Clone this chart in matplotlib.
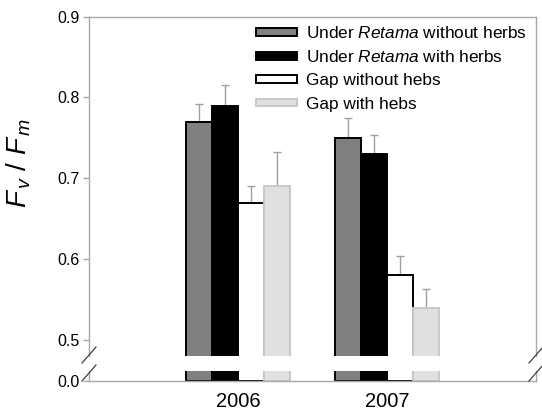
import numpy as np
import matplotlib
matplotlib.use('Agg')
import matplotlib.pyplot as plt
from matplotlib.lines import Line2D

plt.rcParams['font.family'] = ['Liberation Sans', 'DejaVu Sans']
plt.rcParams['mathtext.fontset'] = 'custom'
plt.rcParams['mathtext.rm'] = 'Liberation Sans'
plt.rcParams['mathtext.it'] = 'Liberation Sans:italic'

years = ['2006', '2007']
series = ['Under $\\it{Retama}$ without herbs', 'Under $\\it{Retama}$ with herbs',
          'Gap without hebs', 'Gap with hebs']
means = [
    [0.77, 0.75],
    [0.79, 0.73],
    [0.67, 0.58],
    [0.69, 0.54],
]
errors = [
    [0.022, 0.024],
    [0.025, 0.024],
    [0.021, 0.024],
    [0.043, 0.023],
]

fills = ['#808080', '#000000', '#ffffff', '#e0e0e0']
edges = ['#000000', '#000000', '#000000', '#c8c8c8']
spine_col = '#a8a8a8'

W, H = 542, 413
fig = plt.figure(figsize=(W / 100, H / 100), dpi=100)
ax_top = fig.add_axes([89 / W, 1 - 356 / H, 447 / W, (356 - 16.7) / H])
ax_bot = fig.add_axes([89 / W, 1 - 381 / H, 447 / W, 10 / H])

x = np.arange(1, len(years) + 1)
width = 0.175
offsets = (np.arange(4) - 1.5) * width

for ax in (ax_top, ax_bot):
    handles = []
    for i in range(4):
        b = ax.bar(x + offsets[i], means[i], width, color=fills[i],
                   edgecolor=edges[i], linewidth=1.4, label=series[i], zorder=2)
        handles.append(b)
        ax.errorbar(x + offsets[i], means[i],
                    yerr=[np.zeros(len(years)), errors[i]], fmt='none',
                    ecolor='#a0a0a0', elinewidth=1, capsize=3, capthick=1,
                    zorder=1)
    ax.set_xlim(0, 3)
    for s in ax.spines.values():
        s.set_color(spine_col)
        s.set_linewidth(1)
    ax.tick_params(axis='y', direction='out', length=4, width=1,
                   color=spine_col, labelsize=11.5, pad=3)

ax_top.set_ylim(0.48, 0.9)
ax_top.set_yticks([0.5, 0.6, 0.7, 0.8, 0.9])
ax_top.set_yticklabels(['0.5', '0.6', '0.7', '0.8', '0.9'])
ax_top.spines['bottom'].set_visible(False)
ax_top.tick_params(axis='x', bottom=False, labelbottom=False)

ax_bot.set_ylim(0, 0.0125)
ax_bot.set_yticks([0.0])
ax_bot.set_yticklabels(['0.0'])
ax_bot.spines['top'].set_visible(False)
ax_bot.set_xticks(x)
ax_bot.set_xticklabels(years, fontsize=14.5)
ax_bot.tick_params(axis='x', length=0, pad=8)

ax_top.set_ylabel('$F_{\\,v}$ / $F_{\\,m}$', fontsize=20)
ax_top.yaxis.set_label_coords(-0.125, 0.57)

leg = ax_top.legend(handles=handles, loc='upper left',
                    bbox_to_anchor=(0.3736, 0.976), frameon=False,
                    fontsize=12.4, handlelength=2.4, handleheight=0.32,
                    handletextpad=0.53, labelspacing=0.48,
                    borderpad=0, borderaxespad=0)

# diagonal break marks on both sides of the axis gap
def break_mark(xc, yc):
    dx, dy = 7 / W, 8 / H
    fig.add_artist(Line2D([xc - dx, xc + dx], [yc - dy, yc + dy],
                          transform=fig.transFigure, color='#404040', lw=0.9))

for xc in (89 / W, 536 / W):
    break_mark(xc, 1 - 355 / H)
    break_mark(xc, 1 - 373 / H)

fig.savefig('out.png', dpi=100)
